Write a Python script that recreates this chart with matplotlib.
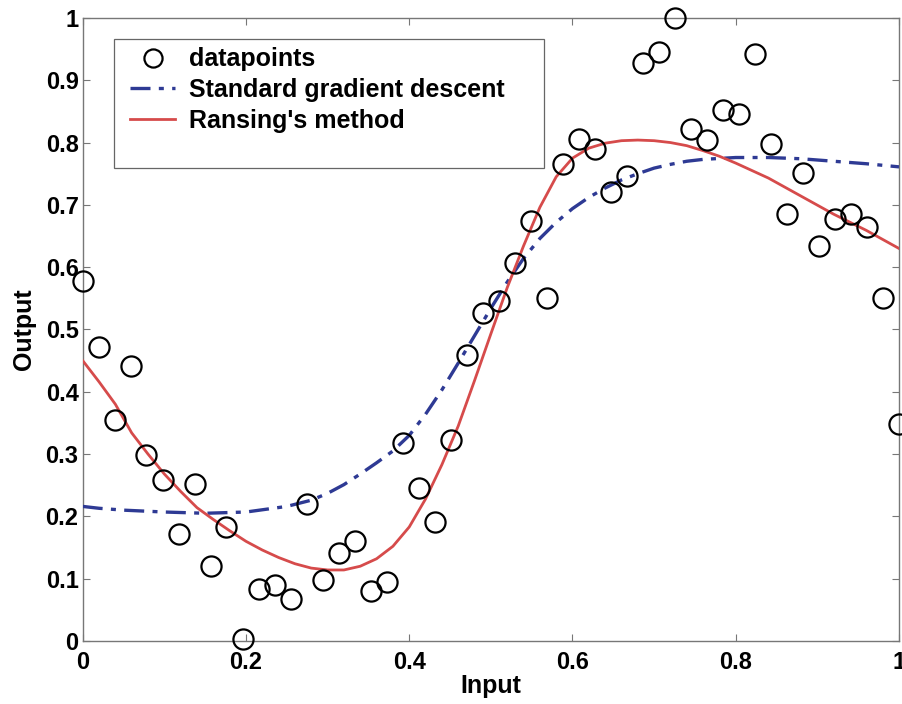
import matplotlib.pyplot as plt
from matplotlib.patches import Rectangle

# data points
x_data = [0.000, 0.020, 0.039, 0.059, 0.078, 0.098, 0.118, 0.137, 0.157, 0.176,
          0.196, 0.216, 0.235, 0.255, 0.275, 0.294, 0.314, 0.333, 0.353, 0.373,
          0.392, 0.412, 0.431, 0.451, 0.471, 0.490, 0.510, 0.529, 0.549, 0.569,
          0.588, 0.608, 0.627, 0.647, 0.667, 0.686, 0.706, 0.725, 0.745, 0.765,
          0.784, 0.804, 0.824, 0.843, 0.863, 0.882, 0.902, 0.922, 0.941, 0.961,
          0.980, 1.000]
y_data = [0.578, 0.472, 0.354, 0.441, 0.299, 0.258, 0.171, 0.252, 0.120, 0.183,
          0.003, 0.083, 0.090, 0.067, 0.220, 0.098, 0.142, 0.161, 0.080, 0.094,
          0.317, 0.245, 0.191, 0.323, 0.459, 0.526, 0.545, 0.606, 0.674, 0.551,
          0.765, 0.806, 0.790, 0.720, 0.747, 0.927, 0.946, 1.000, 0.821, 0.804,
          0.852, 0.846, 0.942, 0.797, 0.685, 0.751, 0.634, 0.678, 0.685, 0.665,
          0.551, 0.348]

# standard gradient descent fit
x_sgd = [0.00, 0.02, 0.05, 0.10, 0.15, 0.20, 0.25, 0.28, 0.30, 0.32, 0.34, 0.36,
         0.38, 0.40, 0.42, 0.44, 0.46, 0.48, 0.50, 0.52, 0.54, 0.56, 0.58, 0.60,
         0.62, 0.64, 0.66, 0.68, 0.70, 0.72, 0.74, 0.76, 0.80, 0.84, 0.88, 0.92,
         0.96, 1.00]
y_sgd = [0.216, 0.213, 0.210, 0.207, 0.205, 0.207, 0.216, 0.226, 0.237, 0.251,
         0.268, 0.286, 0.305, 0.330, 0.364, 0.403, 0.446, 0.490, 0.534, 0.576,
         0.614, 0.646, 0.672, 0.694, 0.712, 0.727, 0.740, 0.750, 0.759, 0.765,
         0.770, 0.773, 0.776, 0.776, 0.774, 0.770, 0.766, 0.761]

# Ransing's method fit
x_ran = [0.00, 0.02, 0.04, 0.06, 0.08, 0.10, 0.12, 0.14, 0.16, 0.18, 0.20, 0.22,
         0.24, 0.26, 0.28, 0.30, 0.32, 0.34, 0.36, 0.38, 0.40, 0.42, 0.44, 0.46,
         0.48, 0.50, 0.52, 0.54, 0.56, 0.58, 0.60, 0.62, 0.64, 0.66, 0.68, 0.70,
         0.72, 0.74, 0.76, 0.78, 0.80, 0.84, 0.88, 0.92, 0.96, 1.00]
y_ran = [0.450, 0.416, 0.380, 0.334, 0.300, 0.268, 0.240, 0.214, 0.195, 0.177,
         0.160, 0.146, 0.134, 0.124, 0.117, 0.114, 0.114, 0.120, 0.132, 0.152,
         0.183, 0.228, 0.283, 0.345, 0.418, 0.493, 0.567, 0.634, 0.696, 0.745,
         0.775, 0.791, 0.799, 0.803, 0.804, 0.803, 0.800, 0.795, 0.787, 0.778,
         0.767, 0.743, 0.714, 0.685, 0.659, 0.630]

plt.rcParams['font.family'] = ['Liberation Sans', 'DejaVu Sans']
plt.rcParams['font.weight'] = 'bold'

fig = plt.figure(figsize=(9.02, 7.04), dpi=100)
ax = fig.add_axes([0.0917, 0.0895, 0.905, 0.885])

ax.plot(x_data, y_data, 'o', ms=14.5, mfc='none', mec='black', mew=1.6,
        label='datapoints', clip_on=False, zorder=4)
ax.plot(x_sgd, y_sgd, color='#2e3a94', lw=2.4, ls=(0, (6, 2.5, 1.5, 2.5)),
        label='Standard gradient descent', zorder=3)
ax.plot(x_ran, y_ran, color='#d64b4b', lw=2.0, label="Ransing's method", zorder=3)

ax.set_xlim(0, 1)
ax.set_ylim(0, 1)
ax.set_xticks([0, 0.2, 0.4, 0.6, 0.8, 1])
ax.set_xticklabels(['0', '0.2', '0.4', '0.6', '0.8', '1'])
ax.set_yticks([0, 0.1, 0.2, 0.3, 0.4, 0.5, 0.6, 0.7, 0.8, 0.9, 1])
ax.set_yticklabels(['0', '0.1', '0.2', '0.3', '0.4', '0.5', '0.6', '0.7', '0.8', '0.9', '1'])
ax.tick_params(direction='in', length=5, width=0.8, color='#777777',
               top=True, right=True, labelsize=17)
ax.tick_params(axis='x', pad=7)
ax.tick_params(axis='y', pad=3)
for s in ax.spines.values():
    s.set_color('#777777')
    s.set_linewidth(1.0)

ax.set_xlabel('Input', fontsize=18, fontweight='bold', labelpad=0)
ax.set_ylabel('Output', fontsize=18, fontweight='bold', labelpad=7)

# legend box (MATLAB style, extra empty space below the entries)
ax.add_patch(Rectangle((0.038, 0.759), 0.527, 0.207, transform=ax.transAxes,
                       facecolor='white', edgecolor='#666666', lw=0.9, zorder=5))
leg = ax.legend(loc='upper left', bbox_to_anchor=(0.037, 0.981), frameon=False,
                fontsize=18, handlelength=1.8, handletextpad=0.55, labelspacing=0.27,
                markerscale=0.9, borderpad=0.2)
leg.set_zorder(6)

plt.savefig('out.png', dpi=100)
